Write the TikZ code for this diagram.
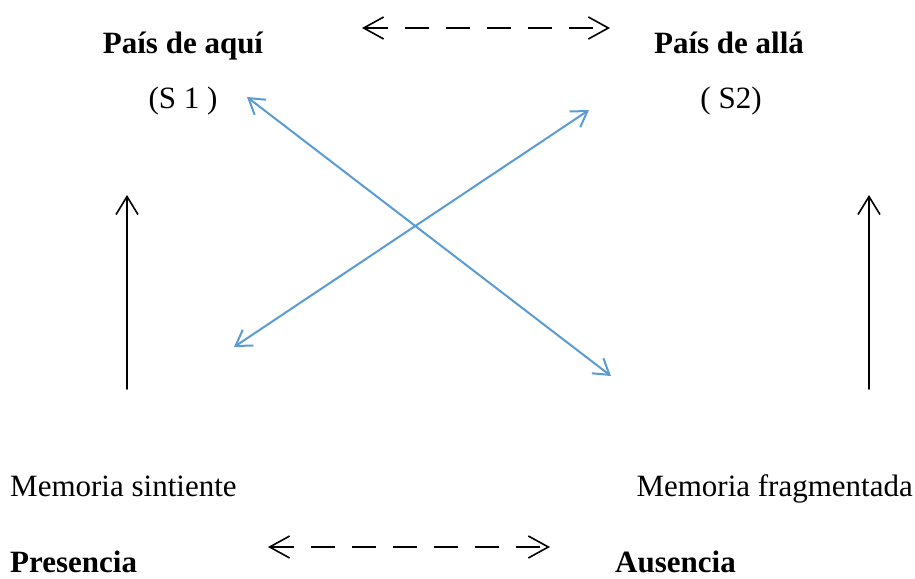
\documentclass[tikz,border=0pt]{standalone}
\usepackage{fontspec}
\setmainfont{Liberation Serif}
\usetikzlibrary{arrows.meta}
\tikzset{
  txt/.style={anchor=base,inner sep=0pt},
  bold/.style={txt,font=\fontsize{31}{37}\selectfont\bfseries},
  relarrow/.style={<->,line width=1.8pt,line cap=butt,dash pattern=on 24pt off 17pt,
    >={Straight Barb[length=20pt,width=22pt,line width=1.6pt]}},
  uparrow/.style={->,line width=1.8pt,>={Straight Barb[length=18pt,width=22pt,line width=1.6pt]}},
  crossarrow/.style={<->,draw=crossblue,line width=2pt,>={Straight Barb[length=15pt,width=19pt,line width=2pt]}}
}
\definecolor{crossblue}{RGB}{91,155,213}
\begin{document}
\begin{tikzpicture}[x=1pt,y=-1pt,line join=round,line cap=round,font=\fontsize{31}{37}\selectfont]
\useasboundingbox (0,0) rectangle (915,578);
	% paises
	\node[bold] (aqui) at (183,54) {País de aquí};
	\node[txt] (s1) at (183,108) {(S 1 )};
	\node[bold] (alla) at (729,54) {País de allá};
	\node[txt] (s2) at (731,108) {( S2)};
	% memorias
	\node[txt,anchor=base west] (sintiente) at (10,496) {Memoria sintiente};
	\node[txt,anchor=base east] (fragmentada) at (913,496) {Memoria fragmentada};
	\node[bold,anchor=base west] (presencia) at (10,572) {Presencia};
	\node[bold,anchor=base west] (ausencia) at (615,572) {Ausencia};
	% extremos de flechas
	\coordinate (t1) at (362,28); \coordinate (t2) at (610,28);
	\coordinate (b1) at (268,547); \coordinate (b2) at (550,547);
	\coordinate (l1) at (127,389); \coordinate (l2) at (127,195);
	\coordinate (r1) at (869,389); \coordinate (r2) at (869,195);
	\coordinate (c1) at (247,97); \coordinate (c2) at (611,376);
	\coordinate (c3) at (234,347); \coordinate (c4) at (589,110);
	\draw[relarrow] (t1)--(t2);
	\draw[relarrow] (b1)--(b2);
	\draw[uparrow] (l1)--(l2);
	\draw[uparrow] (r1)--(r2);
	\draw[crossarrow] (c1)--(c2);
	\draw[crossarrow] (c3)--(c4);
\end{tikzpicture}
\end{document}
